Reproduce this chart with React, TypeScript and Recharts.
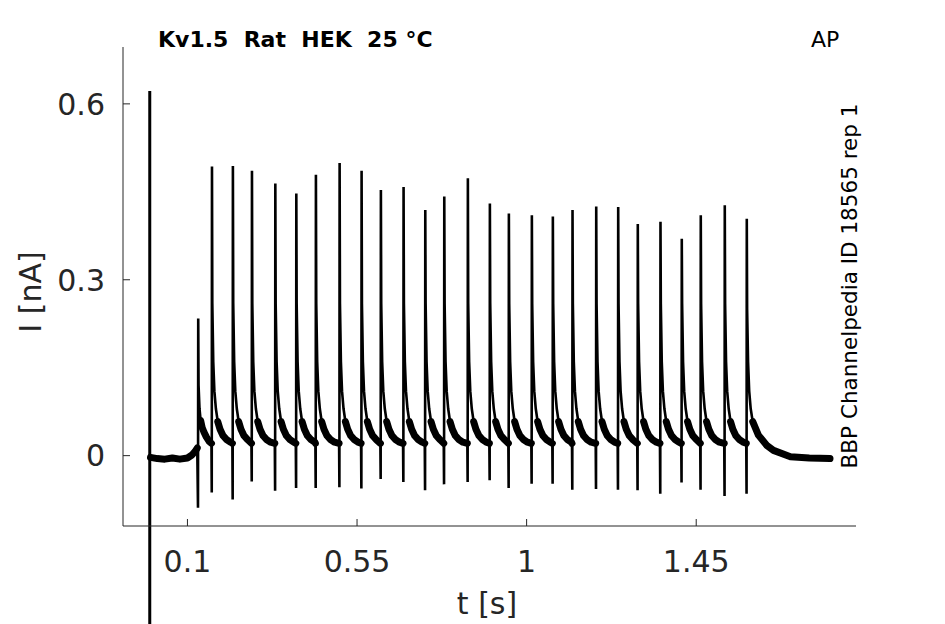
import { Line, LineChart, ReferenceLine, XAxis, YAxis } from "recharts"

const X_MIN = -0.071
const X_MAX = 1.874
const Y_MIN = -0.12
const Y_MAX = 0.697
const X_TICKS = [0.1, 0.55, 1, 1.45]
const Y_TICKS = [0, 0.3, 0.6]

// stimulus onset artefact at t = 0
const ONSET_T = 0
const ONSET_PEAK = 0.622
const ONSET_DIP = -0.3

// baseline before the first spike
const PRE_T = [0.002, 0.02, 0.04, 0.06, 0.08, 0.1, 0.112, 0.12, 0.126]
const PRE_I = [-0.003, -0.005, -0.006, -0.004, -0.006, -0.004, 0.001, 0.007, 0.013]

// spike times [s], peak and dip currents [nA]
const SPIKE_T = [
  0.128, 0.1645, 0.22, 0.2706, 0.3326, 0.3883, 0.4403, 0.5032, 0.5615,
  0.6127, 0.6729, 0.7305, 0.7809, 0.8435, 0.9019, 0.9523, 1.0133, 1.069,
  1.1212, 1.1841, 1.2424, 1.2944, 1.3546, 1.4111, 1.4615, 1.5252, 1.5836,
]
const SPIKE_PEAK = [
  0.234, 0.493, 0.494, 0.486, 0.464, 0.447, 0.479, 0.499, 0.486, 0.453,
  0.458, 0.419, 0.442, 0.473, 0.43, 0.413, 0.41, 0.408, 0.419, 0.425,
  0.424, 0.395, 0.399, 0.37, 0.41, 0.427, 0.404,
]
const SPIKE_DIP = [
  -0.089, -0.063, -0.075, -0.044, -0.06, -0.055, -0.055, -0.054, -0.056,
  -0.04, -0.045, -0.059, -0.049, -0.045, -0.042, -0.055, -0.048, -0.048,
  -0.058, -0.057, -0.058, -0.059, -0.065, -0.046, -0.058, -0.069, -0.065,
]

// decay after a spike (offset from spike time [s], current [nA])
const TAIL_DT = [0.0015, 0.004, 0.007, 0.011, 0.016, 0.022, 0.03, 0.04, 0.05]
const TAIL_I = [0.26, 0.16, 0.11, 0.08, 0.058, 0.045, 0.034, 0.027, 0.023]
const FIRST_TAIL_I = [0.12, 0.08, 0.06, 0.048, 0.04, 0.032, 0.024, 0.02, 0.018]
const TROUGH_I = 0.021

// decay after the last spike, back to baseline
const LAST_TAIL_T = [1.5851, 1.5876, 1.5906, 1.5946, 1.6, 1.615, 1.638, 1.655, 1.7, 1.75, 1.805]
const LAST_TAIL_I = [0.25, 0.16, 0.11, 0.08, 0.058, 0.035, 0.017, 0.009, -0.002, -0.004, -0.005]

// noisy part of the trace is drawn as a heavier band below this level
const BAND_MAX = 0.062

type Row = { t: number; i: number; band: number | null }

function buildTrace(): Row[] {
  const rows: Row[] = []
  const push = (t: number, v: number, banded = true) =>
    rows.push({ t, i: v, band: banded && v <= BAND_MAX ? v : null })
  PRE_T.forEach((t, k) => push(t, PRE_I[k]))
  const last = SPIKE_T.length - 1
  SPIKE_T.forEach((ts, k) => {
    if (k > 0) push(ts - 0.0008, TROUGH_I)
    push(ts, SPIKE_DIP[k], false)
    push(ts + 0.0006, SPIKE_PEAK[k], false)
    if (k === last) {
      LAST_TAIL_T.forEach((t, j) => push(t, LAST_TAIL_I[j]))
      return
    }
    const tail = k === 0 ? FIRST_TAIL_I : TAIL_I
    const next = SPIKE_T[k + 1]
    TAIL_DT.forEach((dt, j) => {
      if (ts + dt < next - 0.002) push(ts + dt, tail[j])
    })
  })
  return rows
}

const trace = buildTrace()

const AXIS = "#262626"
const FONT = "DejaVu Sans"

function YTick({ x, y, payload }: any) {
  return (
    <g>
      <line x1={x} x2={x + 7} y1={y} y2={y} stroke={AXIS} strokeWidth={1} />
      <text x={x - 18} y={y} dy="0.36em" textAnchor="end" fontFamily={FONT} fontSize={30} fill={AXIS}>
        {String(payload.value)}
      </text>
    </g>
  )
}

function XTick({ x, y, payload }: any) {
  return (
    <g>
      <line x1={x} x2={x} y1={y} y2={y - 7} stroke={AXIS} strokeWidth={1} />
      <text x={x} y={y + 46} textAnchor="middle" fontFamily={FONT} fontSize={30} fill={AXIS}>
        {String(payload.value)}
      </text>
    </g>
  )
}

export default function App() {
  return (
    <div style={{ position: "absolute", left: 0, top: 0, width: 945, height: 624, background: "#fff" }}>
      <LineChart width={945} height={624} data={trace} margin={{ top: 47, right: 89, left: 0, bottom: 0 }}>
        <XAxis
          dataKey="t"
          type="number"
          domain={[X_MIN, X_MAX]}
          ticks={X_TICKS}
          allowDataOverflow
          height={98}
          tickSize={0}
          tickMargin={0}
          tickLine={false}
          axisLine={{ stroke: AXIS, strokeWidth: 1 }}
          tick={<XTick />}
        />
        <YAxis
          type="number"
          domain={[Y_MIN, Y_MAX]}
          ticks={Y_TICKS}
          allowDataOverflow
          width={123}
          tickSize={0}
          tickMargin={0}
          tickLine={false}
          axisLine={{ stroke: AXIS, strokeWidth: 1 }}
          tick={<YTick />}
        />
        <Line
          dataKey="band"
          type="linear"
          stroke="#000"
          strokeWidth={7}
          strokeLinejoin="round"
          strokeLinecap="round"
          dot={false}
          activeDot={false}
          connectNulls={false}
          isAnimationActive={false}
        />
        <Line
          dataKey="i"
          type="linear"
          stroke="#000"
          strokeWidth={2.6}
          dot={false}
          activeDot={false}
          isAnimationActive={false}
        />
        <ReferenceLine
          segment={[
            { x: ONSET_T, y: ONSET_PEAK },
            { x: ONSET_T, y: ONSET_DIP },
          ]}
          stroke="#000"
          strokeWidth={3}
          ifOverflow="visible"
        />
      </LineChart>
      <svg
        width={945}
        height={624}
        style={{ position: "absolute", left: 0, top: 0, pointerEvents: "none" }}
      >
        <text x={158} y={47} fontFamily={FONT} fontWeight="bold" fontSize={22} fill="#000" style={{ whiteSpace: "pre" }}>
          {"Kv1.5  Rat  HEK  25 °C"}
        </text>
        <text x={811} y={47} fontFamily={FONT} fontSize={22} fill="#000">
          AP
        </text>
        <text
          transform="translate(857,286) rotate(-90)"
          textAnchor="middle"
          fontFamily={FONT}
          fontSize={21.5}
          fill="#000"
        >
          BBP Channelpedia ID 18565 rep 1
        </text>
        <text x={487} y={614} textAnchor="middle" fontFamily={FONT} fontSize={30} fill={AXIS}>
          t [s]
        </text>
        <text transform="translate(41,292) rotate(-90)" textAnchor="middle" fontFamily={FONT} fontSize={30} fill={AXIS}>
          I [nA]
        </text>
      </svg>
    </div>
  )
}
